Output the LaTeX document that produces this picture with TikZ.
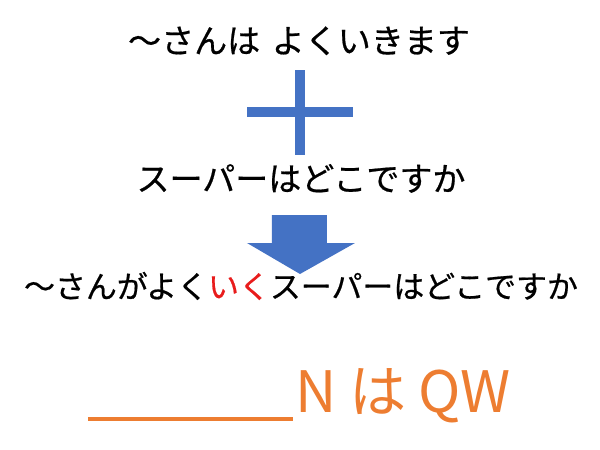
\documentclass[tikz,border=0pt]{standalone}
\usepackage{fontspec}
\setmainfont{Noto Sans CJK JP}
\newfontfamily\heavyjp[FakeBold=0.6]{Noto Sans CJK JP}
\definecolor{offblue}{HTML}{4472C4}
\definecolor{offorange}{HTML}{ED7D31}
\definecolor{offred}{HTML}{E81C1C}
\tikzset{
  jtext/.style={anchor=base, inner sep=0pt, font=\heavyjp\fontsize{18.8pt}{22pt}\selectfont},
  bigtext/.style={anchor=base west, inner sep=0pt, text=offorange, font=\fontsize{32.5pt}{38pt}\selectfont},
  bluefill/.style={fill=offblue, draw=none}
}
\begin{document}
\begin{tikzpicture}[x=0.02cm, y=-0.02cm]
\useasboundingbox (0,0) rectangle (600,450);
\node[jtext] (l1) at (299,53) {～さんは\hspace{0.35em}よくいきます};
\fill[bluefill] (295,70) rectangle (305,155);
\fill[bluefill] (247,107) rectangle (353,117);
\node[jtext] (l2) at (301,191) {スーパーはどこですか};
\fill[bluefill] (272,215) -- (327,215) -- (327,243) -- (355,243) -- (300,274) -- (247,243) -- (272,243) -- cycle;
\node[jtext, font=\heavyjp\fontsize{17.6pt}{22pt}\selectfont] (l3) at (301,298) {～さんがよく\textcolor{offred}{いく}スーパーはどこですか};
\draw[offorange, line width=3.2*0.02cm] (88,419) coordinate (u1) -- (293,419) coordinate (u2);
\node[bigtext] (l4) at (295,412) {N\hspace{0.22em}は\hspace{0.22em}QW};
\end{tikzpicture}
\end{document}
